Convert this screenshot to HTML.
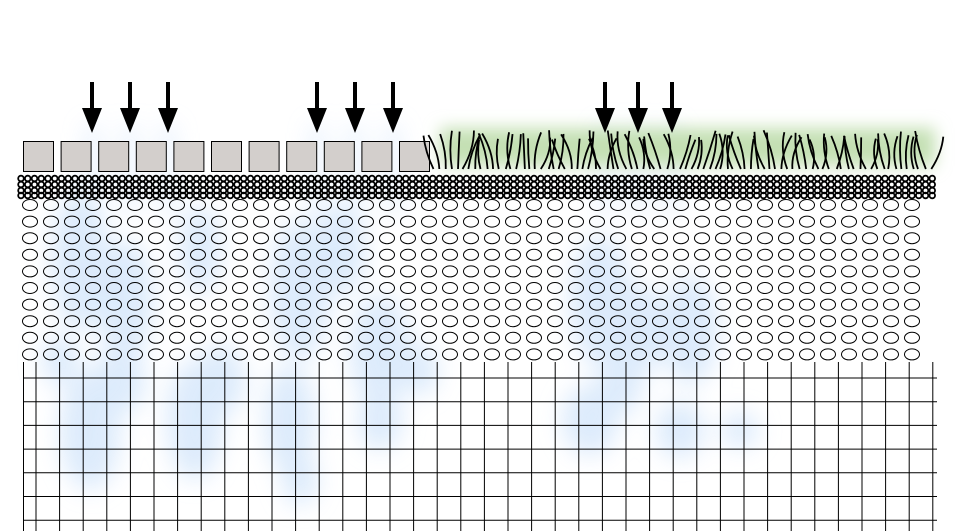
<!DOCTYPE html>
<html><head><meta charset="utf-8"><style>html,body{margin:0;padding:0;background:#fff;width:957px;height:531px;overflow:hidden}</style></head>
<body>
<svg id="s" width="957" height="531" viewBox="0 0 957 531" xmlns="http://www.w3.org/2000/svg">
<defs>
<filter id="b" x="-50%" y="-50%" width="200%" height="200%"><feGaussianBlur stdDeviation="12"/></filter>
<filter id="g" x="-20%" y="-50%" width="140%" height="200%"><feGaussianBlur stdDeviation="8"/></filter>
</defs>
<g id="blue" filter="url(#b)" fill="#d4e6fb" opacity="0.8"></g>
<rect x="440" y="128" width="495" height="38" fill="#c4e0b4" filter="url(#g)"/>
<g id="main"></g>
</svg>
<script>
const NS="http://www.w3.org/2000/svg";
const main=document.getElementById('main'),blue=document.getElementById('blue');
function el(t,a,p){const e=document.createElementNS(NS,t);for(const k in a)e.setAttribute(k,a[k]);(p||main).appendChild(e);return e;}
const streaks=[92,130,168,317,355,393,605,638,672];
streaks.forEach(x=>{el('rect',{x:x-5,y:125,width:10,height:90},blue);});
const blobs=[[80,260,28,70],[125,300,28,60],[90,430,30,60],[195,420,28,60],[120,380,25,35],[300,290,30,70],[290,420,25,55],[300,480,18,25],[380,350,30,55],[380,420,22,30],[220,380,25,35],[420,370,18,25],[600,300,30,65],[590,420,28,35],[640,330,25,45],[690,330,28,55],[680,430,24,28],[740,430,18,18],[620,380,22,35],[200,250,20,45],[60,360,18,25],[340,250,25,45]];
blobs.forEach(b=>el('ellipse',{cx:b[0],cy:b[1],rx:b[2],ry:b[3]},blue));
for(let i=0;i<11;i++)el('rect',{x:23.5+i*37.6,y:141.5,width:30,height:30,fill:'#d3cfcc',stroke:'#000','stroke-width':1});
const gy=[178.5,184.5,190.5,195.5];
for(let r=0;r<4;r++)for(let i=0;i<140;i++){const x=21+i*6.75;if(x>935)break;
 el('circle',{cx:x,cy:gy[r],r:2.8,fill:'none',stroke:'#000','stroke-width':1.8});}
for(let r=0;r<10;r++)for(let c=0;c<44;c++){const x=30+c*21;if(x>930)break;
 el('ellipse',{cx:x,cy:205+r*16.6,rx:7.5,ry:5.5,fill:'none',stroke:'#000','stroke-width':1});}
el('line',{x1:23.5,y1:362,x2:23.5,y2:531,stroke:'#000','stroke-width':1});
for(let x=36;x<=940;x+=23.6){el('line',{x1:x,y1:362,x2:x,y2:531,stroke:'#000','stroke-width':1});}
for(let y=378;y<531;y+=23.7)el('line',{x1:23,y1:y,x2:937,y2:y,stroke:'#000','stroke-width':1});
let seed=7;function rnd(){seed=(seed*9301+49297)%233280;return seed/233280;}
for(let x=432;x<936;x+=6){const x0=x+rnd()*3,top=130+rnd()*10,lean=(rnd()-0.5)*26,bend=(rnd()-0.5)*12;
 el('path',{d:`M${x0} 169 Q${x0+lean*0.5+bend} ${(169+top)/2} ${x0+lean} ${top}`,fill:'none',stroke:'#000','stroke-width':1.8});}
streaks.forEach(x=>{el('rect',{x:x-2,y:82,width:4,height:28,fill:'#000'});el('polygon',{points:`${x-10},108 ${x+10},108 ${x},133`,fill:'#000'});});
</script>
</body></html>
